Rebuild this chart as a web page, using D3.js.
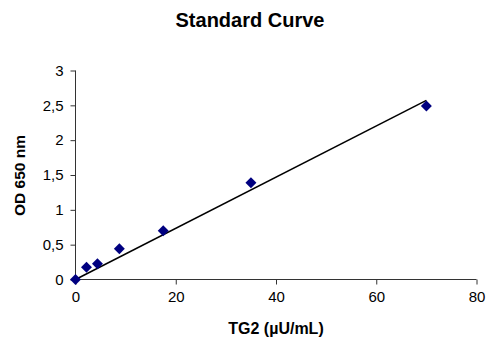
<!DOCTYPE html>
<html>
<head>
<meta charset="utf-8">
<script src="https://cdn.jsdelivr.net/npm/d3@7"></script>
<style>
  html, body { margin: 0; padding: 0; background: #fff; }
  svg { display: block; font-family: "Liberation Sans", Arial, sans-serif; }
</style>
</head>
<body>
<svg id="chart" width="487" height="340"></svg>
<script>
// Data
const concentrations = [0, 2.19, 4.38, 8.75, 17.5, 35, 70];
const odValues = [0, 0.175, 0.225, 0.44, 0.70, 1.39, 2.49];
const trendX = [0, 70];
const trendY = [0, 2.57];
const xTicks = [0, 20, 40, 60, 80];
const yTicks = [0, 0.5, 1, 1.5, 2, 2.5, 3];
const titleText = "Standard Curve";
const xLabel = "TG2 (\u00b5U/mL)";
const yLabel = "OD 650 nm";

const svg = d3.select("#chart");
const x = d3.scaleLinear().domain([0, 80]).range([75.5, 476.5]);
const y = d3.scaleLinear().domain([0, 3]).range([279.5, 70.5]);

const loc = d3.formatLocale({decimal: ",", thousands: ".", grouping: [3], currency: ["", ""]});
const fmt = v => loc.format("~g")(v);

// Y axis
const yAxis = svg.append("g").attr("transform", "translate(75.5,0)")
  .call(d3.axisLeft(y).tickValues(yTicks).tickSize(5).tickPadding(7).tickFormat(fmt));
// X axis
const xAxis = svg.append("g").attr("transform", "translate(0,279.5)")
  .call(d3.axisBottom(x).tickValues(xTicks).tickSize(5).tickPadding(7).tickFormat(fmt));

[yAxis, xAxis].forEach(g => {
  g.select(".domain").attr("stroke", "#333").attr("stroke-width", 1);
  g.selectAll(".tick line").attr("stroke", "#333");
  g.selectAll("text").attr("fill", "#000").attr("font-size", 15)
    .attr("font-family", "'Liberation Sans', Arial, sans-serif");
});
// Remove outer tick ends of domain path to look like Excel
yAxis.select(".domain").attr("d", `M0,${y(3)}V${y(0)}`);
xAxis.select(".domain").attr("d", `M${x(0)},0H${x(80)}`);

// Trendline
svg.append("line")
  .attr("x1", x(trendX[0])).attr("y1", y(trendY[0]))
  .attr("x2", x(trendX[1])).attr("y2", y(trendY[1]))
  .attr("stroke", "#000").attr("stroke-width", 1.5);

// Points (diamonds)
const sym = d3.symbol().type(d3.symbolSquare).size(60);
svg.append("g").selectAll("path")
  .data(concentrations.map((c, i) => [c, odValues[i]]))
  .join("path")
  .attr("d", sym)
  .attr("transform", d => `translate(${x(d[0])},${y(d[1])}) rotate(45)`)
  .attr("fill", "#000080");

// Title
svg.append("text").attr("x", 250).attr("y", 27).attr("text-anchor", "middle")
  .attr("font-size", 20).attr("font-weight", "bold").text(titleText);

// X label
svg.append("text").attr("x", 276).attr("y", 334).attr("text-anchor", "middle")
  .attr("font-size", 16).attr("font-weight", "bold").text(xLabel);

// Y label
svg.append("text").attr("transform", "translate(25,175.5) rotate(-90)")
  .attr("text-anchor", "middle")
  .attr("font-size", 15.5).attr("font-weight", "bold").text(yLabel);
</script>
</body>
</html>
